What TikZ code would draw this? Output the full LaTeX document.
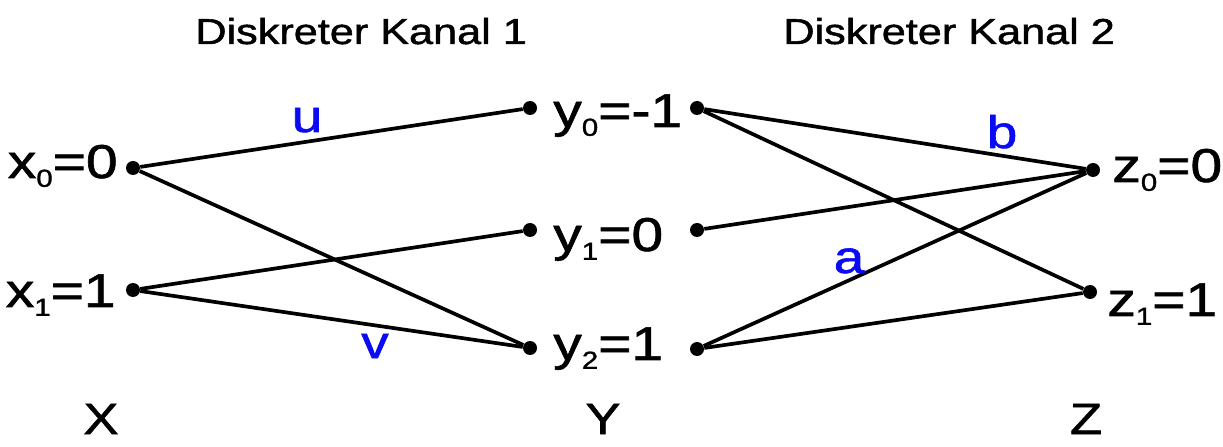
\documentclass[tikz,border=0pt]{standalone}
\usepackage{fontspec}
\setmainfont{Liberation Sans}[FakeBold=1.2]
\usepackage{xcolor}
\usepackage{tikz}
\usetikzlibrary{positioning}
\definecolor{LabelBlue}{RGB}{10,10,245}
\newcommand{\wideText}[1]{\scalebox{1.2}[1]{#1}}
\newcommand{\subIdx}[1]{\raisebox{-5pt}{\fontsize{14}{15}\selectfont #1}}
\tikzset{
  dot/.style={circle, fill=black, inner sep=0pt, minimum size=0.28cm},
  edge/.style={line width=2.1pt},
  sym/.style={inner sep=0pt, font=\fontsize{27}{30}\selectfont},
  title/.style={inner sep=0pt, anchor=base west, font=\fontsize{20.5}{24}\selectfont},
  prob/.style={inner sep=0pt, anchor=base, text=LabelBlue, font=\fontsize{26}{28}\selectfont}
}

\begin{document}
\begin{tikzpicture}
        \useasboundingbox (0,0) rectangle (24.46,8.92);
        % titles
        \node[title] (t1) at (3.9,8.04) {\wideText{Diskreter Kanal 1}};
        \node[title] (t2) at (15.66,8.04) {\wideText{Diskreter Kanal 2}};
        % input, middle and output symbols
        \node[dot] (x0) at (2.66,5.56) {};
        \node[dot] (x1) at (2.66,3.12) {};
        \node[dot] (y0l) at (10.6,6.76) {};
        \node[dot] (y1l) at (10.6,4.32) {};
        \node[dot] (y2l) at (10.6,1.96) {};
        \node[dot] (y0r) at (13.94,6.76) {};
        \node[dot] (y1r) at (13.94,4.32) {};
        \node[dot] (y2r) at (13.94,1.94) {};
        \node[dot] (z0) at (21.86,5.52) {};
        \node[dot] (z1) at (21.8,3.08) {};
        \node[sym, anchor=base east] (x0lbl) at (2.36,5.36) {\wideText{x\subIdx{0}=0}};
        \node[sym, anchor=base east] (x1lbl) at (2.32,2.78) {\wideText{x\subIdx{1}=1}};
        \node[sym, anchor=base west] (y0lbl) at (11.06,6.38) {\wideText{y\subIdx{0}=-1}};
        \node[sym, anchor=base west] (y1lbl) at (11.06,3.9) {\wideText{y\subIdx{1}=0}};
        \node[sym, anchor=base west] (y2lbl) at (11.06,1.72) {\wideText{y\subIdx{2}=1}};
        \node[sym, anchor=base west] (z0lbl) at (22.24,5.28) {\wideText{z\subIdx{0}=0}};
        \node[sym, anchor=base west] (z1lbl) at (22.14,2.6) {\wideText{z\subIdx{1}=1}};
        % channel 1
        \draw[edge] (x0) -- (y0l);
        \draw[edge] (x0) -- (y2l);
        \draw[edge] (x1) -- (y1l);
        \draw[edge] (x1) -- (y2l);
        % channel 2
        \draw[edge] (y0r) -- (z0);
        \draw[edge] (y0r) -- (z1);
        \draw[edge] (y1r) -- (z0);
        \draw[edge] (y2r) -- (z0);
        \draw[edge] (y2r) -- (z1);
        % transition labels
        \node[prob] (pu) at (6.14,6.28) {\wideText{u}};
        \node[prob] (pv) at (7.5,1.76) {\wideText{v}};
        \node[prob] (pb) at (20.04,5.96) {\wideText{b}};
        \node[prob] (pa) at (16.98,3.46) {\wideText{a}};
        % alphabets
        \node[sym, anchor=base, font=\fontsize{25}{28}\selectfont] (setX) at (2.02,0.24) {\wideText{X}};
        \node[sym, anchor=base, font=\fontsize{25}{28}\selectfont] (setY) at (12.06,0.24) {\wideText{Y}};
        \node[sym, anchor=base, font=\fontsize{25}{28}\selectfont] (setZ) at (21.72,0.24) {\wideText{Z}};
      \end{tikzpicture}
\end{document}
